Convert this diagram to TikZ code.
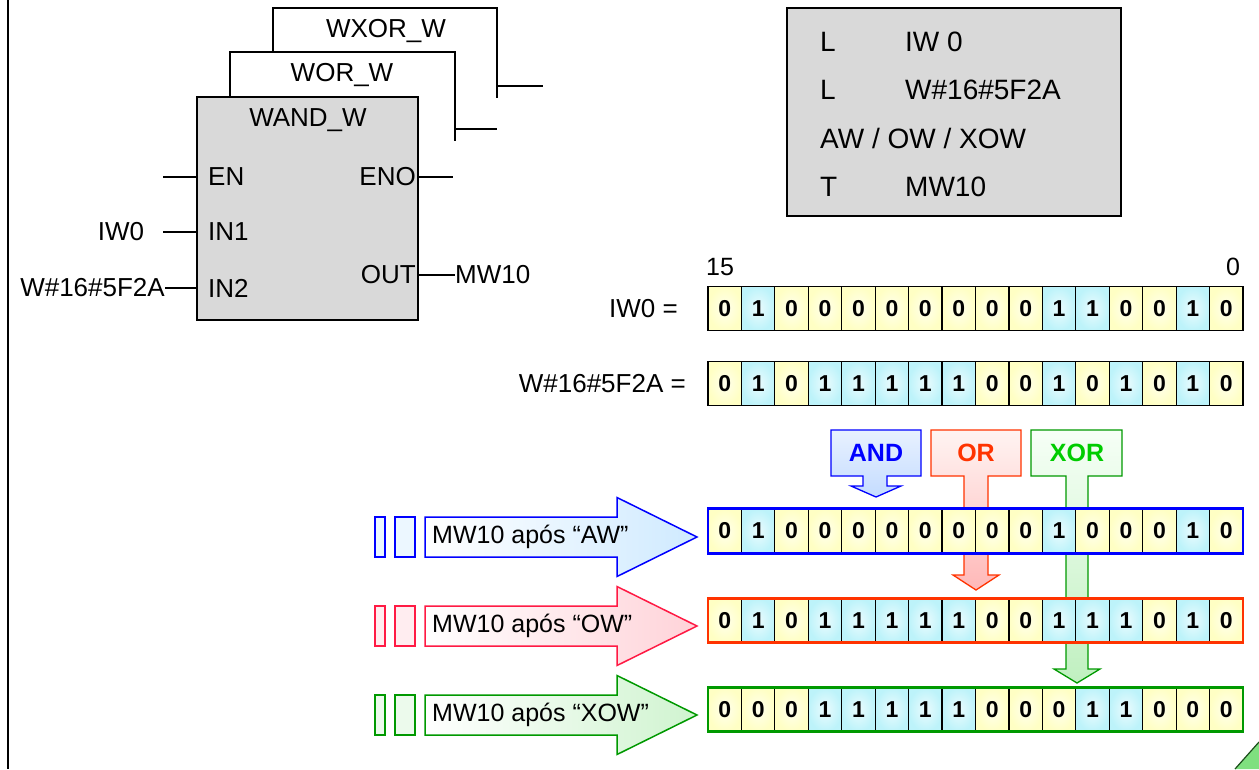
\documentclass[tikz,border=0pt]{standalone}
\usepackage{fontspec}
\setmainfont{Liberation Sans}
\definecolor{blockgray}{HTML}{D9D9D9}
\definecolor{zerocol}{HTML}{FFFFC4}
\definecolor{onecol}{HTML}{BDF3FA}
\definecolor{andblue}{HTML}{0000FF}
\definecolor{orred}{HTML}{FF3300}
\definecolor{owred}{HTML}{FF1A44}
\definecolor{xorgreen}{HTML}{009900}
\definecolor{xortext}{HTML}{00CC00}
\definecolor{andtop}{HTML}{E8F1FF}
\definecolor{andbot}{HTML}{C4DCFF}
\definecolor{ortop}{HTML}{FFF4F2}
\definecolor{orbot}{HTML}{FFB8B8}
\definecolor{xortop}{HTML}{F6FFF6}
\definecolor{xorbot}{HTML}{C0F0C0}
\definecolor{awfill}{HTML}{BFE3FF}
\definecolor{owfill}{HTML}{FFC4CC}
\definecolor{xowfill}{HTML}{C0F0C0}
\definecolor{cornerfill}{HTML}{7FE07F}
\definecolor{cornerline}{HTML}{1A4D1A}
\newcommand\fs[1]{\fontsize{#1}{#1}\selectfont}
\newcommand\bitrow[4]{%
  \foreach \b [count=\i from 0] in {#3} {%
    \ifnum\b=1 \def\cc{onecol}\else\def\cc{zerocol}\fi
    \node[cell, inner color=\cc!30, outer color=\cc] (#1-\i) at ({724.72+\i*33.4375},#2) {\b};
  }
  \node[rowbox, #4] (#1) at (975.5,#2) {};
}
\begin{document}
\begin{tikzpicture}[x=1pt,y=-1pt,
  thinline/.style={line width=1.2pt},
  lbl/.style={inner sep=0pt, font=\fs{26}},
  stl/.style={inner sep=0pt, anchor=west, font=\fs{28}},
  cell/.style={draw=black, line width=1.2pt, minimum width=33.44pt, minimum height=44pt, inner sep=0pt, font=\bfseries\fs{23}},
  rowbox/.style={minimum width=535pt, minimum height=44pt, inner sep=0pt},
  callout/.style={line width=1.3pt},
  opname/.style={inner sep=0pt, font=\bfseries\fs{25}},
  resarrow/.style={line width=1.5pt},
  arrlbl/.style={inner sep=0pt, anchor=west, font=\fs{25}}]
\useasboundingbox (0,0) rectangle (1259,769);

% left border
\draw[thinline] (8,0) -- (8,769);

% ---------- function block ----------
\draw[thinline] (273,52) -- (273,8) -- (497,8) -- (497,98);
\draw[thinline] (497,86) -- (543,86);
\node[lbl] (wxor) at (386,31) {WXOR\_W};
\draw[thinline] (230,97) -- (230,52) -- (455,52) -- (455,141);
\draw[thinline] (455,129) -- (497,129);
\node[lbl] (wor) at (342,75) {WOR\_W};
\node[draw, thinline, fill=blockgray, minimum width=221pt, minimum height=223pt, inner sep=0pt] (wand) at (307.5,208.5) {};
\node[lbl] (wandt) at (308,120) {WAND\_W};

\node[lbl, anchor=west] (en) at (208,177) {EN};
\node[lbl, anchor=west] (in1) at (208,232) {IN1};
\node[lbl, anchor=west] (in2) at (208,288) {IN2};
\node[lbl, anchor=east] (eno) at (416,177) {ENO};
\node[lbl, anchor=east] (out) at (416,275) {OUT};

\coordinate (enL) at (163,177);
\draw[thinline] (enL) -- (enL -| wand.west);
\node[lbl] (iw0) at (121,232) {IW0};
\coordinate (in1L) at (163,232);
\draw[thinline] (in1L) -- (in1L -| wand.west);
\node[lbl, anchor=east] (k5f) at (165,288) {W\#16\#5F2A};
\draw[thinline] (k5f.east) -- (k5f.east -| wand.west);
\coordinate (enoR) at (453,177);
\draw[thinline] (enoR -| wand.east) -- (enoR);
\node[lbl, anchor=west] (mw) at (455,275) {MW10};
\draw[thinline] (mw.west -| wand.east) -- (mw.west);

% ---------- STL box ----------
\node[draw, thinline, fill=blockgray, minimum width=334pt, minimum height=208pt, inner sep=0pt] (stlbox) at (954,112) {};
\node[stl] (s1a) at (820,42) {L};
\node[stl] (s1b) at (905,42) {IW 0};
\node[stl] (s2a) at (820,90) {L};
\node[stl] (s2b) at (905,90) {W\#16\#5F2A};
\node[stl] (s3a) at (820,138) {AW / OW / XOW};
\node[stl] (s4a) at (820,187) {T};
\node[stl] (s4b) at (905,187) {MW10};

% ---------- bit labels ----------
\node[lbl, font=\fs{25}] (b15) at (720,267) {15};
\node[lbl, font=\fs{25}] (b0) at (1233,267) {0};
\node[lbl, anchor=east] (liw0) at (678,308.5) {IW0 =};
\node[lbl, anchor=east] (lk5f) at (686,383.5) {W\#16\#5F2A =};

% ---------- operation callouts (behind rows) ----------
\path[callout, draw=andblue, top color=andtop, bottom color=andbot]
  (831,430) -- (921,430) -- (921,476) -- (887,476) -- (887,486) -- (901,486) -- (876,497)
  -- (851,486) -- (863,486) -- (863,476) -- (831,476) -- cycle;
\node[opname, text=andblue] (andt) at (876,453) {AND};
\path[callout, draw=orred, top color=ortop, bottom color=orbot]
  (931,430) -- (1021,430) -- (1021,476) -- (988,476) -- (988,575) -- (999,575) -- (976,590)
  -- (953,575) -- (964,575) -- (964,476) -- (931,476) -- cycle;
\node[opname, text=orred] (ort) at (976,453) {OR};
\path[callout, draw=xorgreen, top color=xortop, bottom color=xorbot]
  (1031,430) -- (1122,430) -- (1122,476) -- (1088,476) -- (1088,669) -- (1100,669) -- (1077,683)
  -- (1054,669) -- (1066,669) -- (1066,476) -- (1031,476) -- cycle;
\node[opname, text=xortext] (xort) at (1077,453) {XOR};

% ---------- bit rows ----------
\bitrow{riw}{308.5}{0,1,0,0,0,0,0,0,0,0,1,1,0,0,1,0}{draw=black, line width=1.8pt}
\bitrow{rk}{383.5}{0,1,0,1,1,1,1,1,0,0,1,0,1,0,1,0}{draw=black, line width=1.8pt}
\bitrow{rand}{531}{0,1,0,0,0,0,0,0,0,0,1,0,0,0,1,0}{draw=andblue, line width=2.6pt, minimum height=45pt}
\bitrow{ror}{620.5}{0,1,0,1,1,1,1,1,0,0,1,1,1,0,1,0}{draw=orred, line width=2.6pt}
\bitrow{rxor}{709.5}{0,0,0,1,1,1,1,1,0,0,0,1,1,0,0,0}{draw=xorgreen, line width=2.6pt}

% ---------- result arrows ----------
\foreach \yc/\col/\fc/\txt/\nm in {537/andblue/awfill/{MW10 após “AW”}/aw, 626/owred/owfill/{MW10 após “OW”}/ow, 715/xorgreen/xowfill/{MW10 após “XOW”}/xow} {
  \path[resarrow, draw=\col, fill=\fc!30] (375,\yc-20) rectangle (385,\yc+20);
  \path[resarrow, draw=\col, fill=\fc!30] (395,\yc-20) rectangle (415,\yc+20);
  \path[resarrow, draw=\col, left color=white, right color=\fc!75]
    (425,\yc-20) -- (617,\yc-20) -- (617,\yc-39.5) -- (697,\yc) -- (617,\yc+39.5) -- (617,\yc+20) -- (425,\yc+20) -- cycle;
  \node[arrlbl] (\nm) at (432,\yc) {\txt};
}

% ---------- corner mark ----------
\path[fill=cornerfill] (1259,742) -- (1259,769) -- (1235,769) -- cycle;
\draw[line width=1.2pt, cornerline] (1235,769) -- (1259,742);
\end{tikzpicture}
\end{document}
